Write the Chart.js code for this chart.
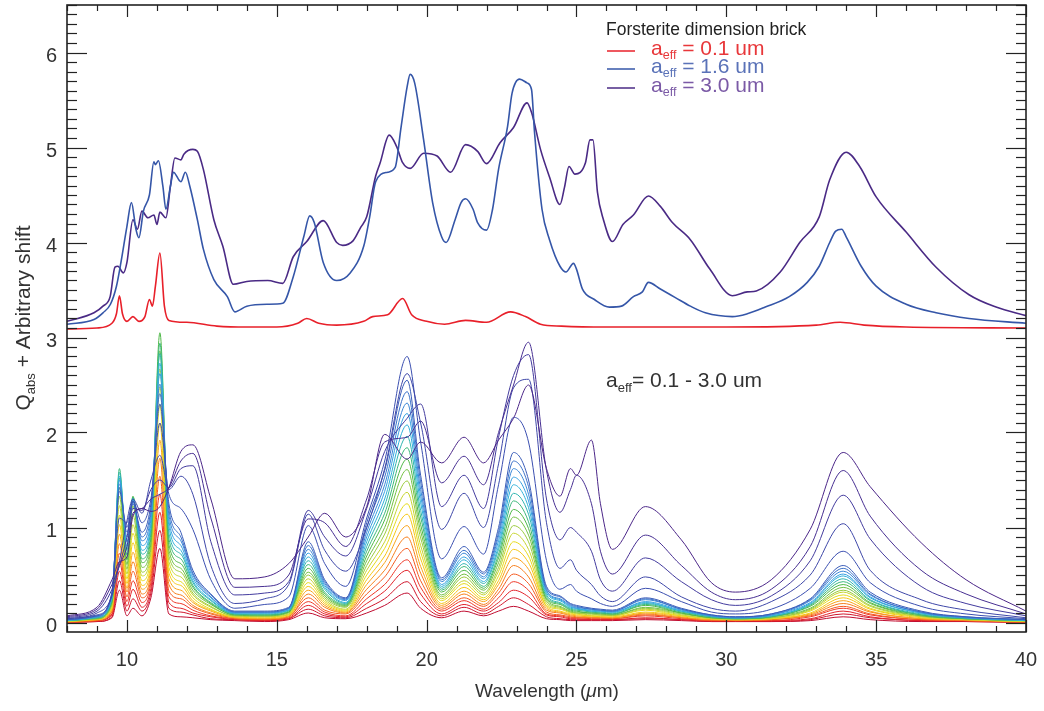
<!DOCTYPE html>
<html>
<head>
<meta charset="utf-8">
<script src="https://cdn.jsdelivr.net/npm/chart.js@4.4.1/dist/chart.umd.min.js"></script>
<style>
  html, body { margin: 0; padding: 0; background: #fff; }
  #wrap { width: 1044px; height: 711px; }
</style>
</head>
<body>
<div id="wrap"><canvas id="chart" width="1044" height="711"></canvas></div>
<script>
/* Forsterite Q_abs spectra – top: 3 sizes shifted by ~3.1, bottom: size family */

// ── Top panel (shifted curves) ────────────────────────────────────────
const TOP_RED_X = [8, 9, 9.5, 9.65, 9.75, 9.85, 10, 10.2, 10.4, 10.6, 10.75, 10.85, 10.95, 11.1, 11.25, 11.4, 12, 13, 14, 15, 15.7, 16, 16.4, 17, 17.9, 18.2, 18.7, 19.2, 19.5, 20, 20.6, 21.3, 22, 22.8, 23.3, 23.8, 24.5, 26, 30, 33, 33.8, 34.6, 36, 40];
const TOP_RED_Y = [3.09, 3.1, 3.15, 3.25, 3.44, 3.25, 3.17, 3.22, 3.17, 3.22, 3.4, 3.33, 3.54, 3.89, 3.33, 3.18, 3.16, 3.12, 3.11, 3.11, 3.15, 3.2, 3.15, 3.13, 3.17, 3.22, 3.24, 3.41, 3.24, 3.17, 3.14, 3.18, 3.16, 3.27, 3.22, 3.14, 3.12, 3.11, 3.11, 3.13, 3.16, 3.13, 3.11, 3.1];

const TOP_BLUE_X = [8, 8.9, 9.2, 9.45, 9.65, 9.8, 10, 10.15, 10.3, 10.4, 10.55, 10.75, 10.9, 10.95, 11.05, 11.2, 11.3, 11.45, 11.55, 11.8, 11.95, 12.1, 12.35, 12.55, 12.9, 13.35, 13.6, 14, 14.7, 15.2, 15.55, 15.9, 16.1, 16.25, 16.55, 17, 17.45, 17.9, 18.1, 18.3, 18.7, 18.95, 19.15, 19.35, 19.45, 19.6, 19.9, 20.2, 20.5, 20.65, 20.95, 21.15, 21.3, 21.55, 21.7, 22, 22.2, 22.4, 22.7, 22.85, 23.1, 23.35, 23.5, 23.6, 23.85, 24.1, 24.45, 24.65, 24.9, 25, 25.2, 25.6, 26.1, 26.5, 26.9, 27.2, 27.4, 27.8, 28.3, 28.8, 29.3, 30.2, 30.7, 31.3, 32.1, 32.7, 33.1, 33.45, 33.65, 33.85, 34, 34.5, 35, 36, 37, 38.1, 40];
const TOP_BLUE_Y = [3.14, 3.19, 3.26, 3.35, 3.54, 3.79, 4.17, 4.42, 4.14, 4.05, 4.33, 4.5, 4.85, 4.82, 4.86, 4.59, 4.35, 4.59, 4.74, 4.64, 4.74, 4.59, 4.24, 3.93, 3.61, 3.43, 3.27, 3.33, 3.35, 3.36, 3.64, 4.06, 4.28, 4.21, 3.79, 3.6, 3.68, 3.96, 4.27, 4.64, 4.74, 4.79, 5.22, 5.64, 5.77, 5.68, 5.08, 4.42, 4.06, 4.0, 4.24, 4.42, 4.46, 4.35, 4.21, 4.13, 4.35, 4.77, 5.22, 5.57, 5.72, 5.68, 5.61, 5.16, 4.35, 4.03, 3.75, 3.69, 3.78, 3.72, 3.51, 3.4, 3.32, 3.33, 3.43, 3.48, 3.58, 3.51, 3.42, 3.33, 3.26, 3.22, 3.25, 3.32, 3.43, 3.58, 3.75, 4.0, 4.12, 4.14, 4.06, 3.75, 3.54, 3.35, 3.26, 3.2, 3.15];

const TOP_PURPLE_X = [8, 8.9, 9.2, 9.44, 9.6, 9.7, 9.88, 10, 10.2, 10.35, 10.5, 10.7, 10.9, 11, 11.1, 11.3, 11.45, 11.6, 11.8, 11.9, 12.2, 12.35, 12.55, 12.9, 13.2, 13.55, 14, 14.7, 15.2, 15.55, 16, 16.55, 17, 17.2, 17.55, 17.8, 18, 18.3, 18.45, 18.75, 19, 19.2, 19.45, 19.9, 20.35, 20.8, 21.3, 21.7, 22, 22.45, 22.9, 23.35, 23.5, 23.8, 24.1, 24.45, 24.6, 24.75, 24.95, 25.3, 25.45, 25.55, 25.7, 25.9, 26.2, 26.55, 26.9, 27.4, 27.8, 28.2, 28.8, 29.45, 30.2, 30.7, 31, 31.8, 32.45, 33.1, 33.45, 34, 34.45, 35, 36, 37, 38.1, 39, 40];
const TOP_PURPLE_Y = [3.17, 3.26, 3.33, 3.43, 3.74, 3.75, 3.68, 3.79, 4.24, 4.14, 4.33, 4.26, 4.29, 4.19, 4.32, 4.26, 4.59, 4.89, 4.87, 4.93, 4.98, 4.96, 4.77, 4.24, 3.96, 3.56, 3.59, 3.6, 3.57, 3.85, 4.01, 4.23, 4.0, 3.97, 4.02, 4.16, 4.27, 4.7, 4.84, 5.13, 5.01, 4.84, 4.78, 4.94, 4.91, 4.74, 5.03, 4.96, 4.83, 5.05, 5.21, 5.47, 5.37, 4.98, 4.69, 4.4, 4.58, 4.8, 4.72, 4.84, 5.08, 5.08, 4.53, 4.24, 4.01, 4.19, 4.29, 4.49, 4.38, 4.21, 4.03, 3.72, 3.44, 3.48, 3.49, 3.69, 4.0, 4.27, 4.66, 4.95, 4.8, 4.48, 4.11, 3.74, 3.45, 3.32, 3.23];

// ── Bottom panel (a_eff = 0.1 - 3.0 um family) ───────────────────────
const WL = [8, 9, 9.5, 9.75, 10, 10.2, 10.5, 10.8, 11.1, 11.4, 11.8, 12.2, 12.8, 13.6, 14.6, 15.4, 16.05, 16.6, 17.3, 18, 18.6, 19.35, 19.8, 20.5, 21.25, 21.9, 22.4, 22.9, 23.4, 24, 24.45, 24.8, 25, 25.5, 25.8, 26.2, 27.3, 28.5, 29.5, 30.3, 31.5, 32.8, 33.9, 34.8, 36.5, 38, 40];

// small grains: one column per wavelength in WL, smallest size first
const FAN_BY_WL = [
  [0,0,0,0,0,0.01,0.01,0.01,0.01,0.01,0.02,0.02,0.02,0.02,0.02,0.02,0.03,0.03,0.03,0.03],
  [0.01,0.01,0.02,0.02,0.02,0.03,0.03,0.03,0.04,0.04,0.04,0.04,0.05,0.05,0.05,0.06,0.06,0.06,0.07,0.07],
  [0.05,0.06,0.08,0.09,0.11,0.12,0.14,0.15,0.16,0.18,0.19,0.21,0.22,0.23,0.25,0.26,0.28,0.29,0.31,0.32],
  [0.34,0.44,0.54,0.64,0.73,0.83,0.93,1.03,1.13,1.23,1.33,1.42,1.52,1.62,1.58,1.54,1.50,1.46,1.42,1.38],
  [0.07,0.12,0.17,0.22,0.27,0.32,0.36,0.41,0.46,0.51,0.56,0.61,0.66,0.71,0.76,0.80,0.85,0.90,0.95,1.00],
  [0.15,0.25,0.35,0.44,0.54,0.64,0.74,0.84,0.94,1.03,1.13,1.23,1.33,1.32,1.31,1.30,1.29,1.28,1.27,1.25],
  [0.07,0.12,0.16,0.21,0.26,0.30,0.35,0.39,0.44,0.49,0.53,0.58,0.63,0.67,0.72,0.76,0.81,0.86,0.90,0.95],
  [0.26,0.31,0.36,0.42,0.47,0.52,0.57,0.62,0.68,0.73,0.78,0.83,0.89,0.94,0.99,1.04,1.09,1.15,1.20,1.25],
  [0.78,0.97,1.16,1.35,1.54,1.73,1.92,2.10,2.29,2.48,2.67,2.86,3.05,2.94,2.83,2.73,2.62,2.51,2.41,2.30],
  [0.09,0.15,0.21,0.27,0.33,0.40,0.46,0.52,0.58,0.64,0.70,0.76,0.82,0.88,0.94,1.01,1.07,1.13,1.19,1.25],
  [0.06,0.11,0.15,0.20,0.25,0.29,0.34,0.39,0.43,0.48,0.53,0.57,0.62,0.67,0.72,0.76,0.81,0.86,0.90,0.95],
  [0.05,0.08,0.10,0.13,0.16,0.18,0.21,0.23,0.26,0.29,0.31,0.34,0.37,0.39,0.42,0.44,0.47,0.50,0.52,0.55],
  [0.03,0.04,0.06,0.07,0.09,0.10,0.12,0.13,0.14,0.16,0.17,0.19,0.20,0.21,0.23,0.24,0.26,0.27,0.29,0.30],
  [0.02,0.03,0.03,0.04,0.04,0.05,0.05,0.06,0.06,0.07,0.07,0.08,0.08,0.09,0.09,0.10,0.10,0.11,0.11,0.12],
  [0.01,0.02,0.02,0.03,0.03,0.04,0.04,0.05,0.06,0.06,0.07,0.07,0.08,0.08,0.09,0.10,0.10,0.11,0.11,0.12],
  [0.03,0.04,0.04,0.05,0.06,0.06,0.07,0.08,0.08,0.09,0.10,0.11,0.11,0.12,0.13,0.13,0.14,0.15,0.15,0.16],
  [0.10,0.14,0.18,0.22,0.26,0.30,0.34,0.38,0.42,0.46,0.50,0.53,0.57,0.61,0.65,0.69,0.73,0.77,0.81,0.85],
  [0.05,0.07,0.09,0.11,0.13,0.16,0.18,0.20,0.22,0.24,0.26,0.28,0.30,0.32,0.35,0.37,0.39,0.41,0.43,0.45],
  [0.04,0.05,0.06,0.07,0.09,0.10,0.11,0.12,0.13,0.14,0.16,0.17,0.18,0.19,0.20,0.21,0.23,0.24,0.25,0.26],
  [0.10,0.15,0.20,0.25,0.30,0.35,0.40,0.45,0.50,0.55,0.60,0.65,0.70,0.75,0.80,0.85,0.90,0.95,1.00,1.05],
  [0.18,0.25,0.33,0.40,0.48,0.55,0.63,0.70,0.78,0.85,0.93,1.00,1.08,1.15,1.23,1.30,1.38,1.45,1.53,1.60],
  [0.31,0.43,0.55,0.66,0.78,0.90,1.02,1.14,1.25,1.37,1.49,1.61,1.72,1.84,1.96,2.08,2.20,2.31,2.43,2.55],
  [0.15,0.22,0.30,0.37,0.44,0.52,0.59,0.67,0.74,0.81,0.89,0.96,1.03,1.11,1.18,1.26,1.33,1.40,1.48,1.55],
  [0.05,0.07,0.09,0.12,0.14,0.16,0.18,0.20,0.23,0.25,0.27,0.29,0.32,0.34,0.36,0.38,0.40,0.43,0.45,0.47],
  [0.12,0.16,0.19,0.23,0.26,0.30,0.33,0.37,0.41,0.44,0.48,0.51,0.55,0.59,0.62,0.66,0.69,0.73,0.76,0.80],
  [0.07,0.09,0.12,0.14,0.17,0.19,0.22,0.24,0.26,0.29,0.31,0.34,0.36,0.38,0.41,0.43,0.46,0.48,0.51,0.53],
  [0.12,0.17,0.21,0.26,0.31,0.35,0.40,0.44,0.49,0.54,0.58,0.63,0.68,0.72,0.77,0.81,0.86,0.91,0.95,1.00],
  [0.17,0.26,0.34,0.43,0.51,0.60,0.68,0.77,0.85,0.94,1.02,1.11,1.19,1.28,1.36,1.45,1.53,1.62,1.70,1.79],
  [0.12,0.19,0.27,0.34,0.41,0.48,0.56,0.63,0.70,0.77,0.85,0.92,0.99,1.06,1.14,1.21,1.28,1.35,1.43,1.50],
  [0.04,0.06,0.08,0.09,0.11,0.13,0.15,0.17,0.18,0.20,0.22,0.24,0.25,0.27,0.29,0.31,0.33,0.34,0.36,0.38],
  [0.03,0.04,0.06,0.07,0.08,0.10,0.11,0.12,0.14,0.15,0.16,0.17,0.19,0.20,0.21,0.23,0.24,0.25,0.27,0.28],
  [0.02,0.03,0.04,0.05,0.06,0.07,0.08,0.09,0.10,0.11,0.11,0.12,0.13,0.14,0.15,0.16,0.17,0.18,0.19,0.20],
  [0.02,0.03,0.04,0.05,0.05,0.06,0.07,0.08,0.09,0.10,0.10,0.11,0.12,0.13,0.14,0.15,0.15,0.16,0.17,0.18],
  [0.02,0.03,0.03,0.04,0.05,0.05,0.06,0.07,0.07,0.08,0.09,0.10,0.10,0.11,0.12,0.12,0.13,0.14,0.14,0.15],
  [0.02,0.03,0.03,0.04,0.05,0.05,0.06,0.06,0.07,0.08,0.08,0.09,0.10,0.10,0.11,0.12,0.12,0.13,0.13,0.14],
  [0.02,0.03,0.03,0.04,0.04,0.05,0.05,0.06,0.07,0.07,0.08,0.08,0.09,0.09,0.10,0.11,0.11,0.12,0.12,0.13],
  [0.03,0.04,0.05,0.07,0.08,0.09,0.10,0.11,0.13,0.14,0.15,0.16,0.18,0.19,0.20,0.21,0.22,0.24,0.25,0.26],
  [0.02,0.03,0.03,0.04,0.05,0.05,0.06,0.07,0.07,0.08,0.09,0.10,0.10,0.11,0.12,0.12,0.13,0.14,0.14,0.15],
  [0.01,0.01,0.02,0.02,0.02,0.03,0.03,0.04,0.04,0.04,0.05,0.05,0.05,0.06,0.06,0.07,0.07,0.07,0.08,0.08],
  [0.01,0.01,0.02,0.02,0.02,0.02,0.03,0.03,0.03,0.03,0.04,0.04,0.04,0.04,0.05,0.05,0.05,0.05,0.06,0.06],
  [0.01,0.01,0.02,0.02,0.03,0.03,0.04,0.04,0.04,0.05,0.05,0.06,0.06,0.06,0.07,0.07,0.08,0.08,0.09,0.09],
  [0.02,0.03,0.04,0.06,0.07,0.08,0.09,0.10,0.12,0.13,0.14,0.15,0.17,0.18,0.19,0.20,0.21,0.23,0.24,0.25],
  [0.06,0.09,0.12,0.15,0.17,0.20,0.23,0.26,0.29,0.32,0.34,0.37,0.40,0.43,0.46,0.49,0.51,0.54,0.57,0.60],
  [0.03,0.05,0.06,0.08,0.09,0.11,0.12,0.14,0.15,0.17,0.18,0.20,0.21,0.23,0.24,0.26,0.27,0.29,0.30,0.32],
  [0.01,0.02,0.02,0.03,0.03,0.04,0.04,0.05,0.06,0.06,0.07,0.07,0.08,0.08,0.09,0.10,0.10,0.11,0.11,0.12],
  [0.01,0.01,0.02,0.02,0.02,0.02,0.03,0.03,0.03,0.03,0.04,0.04,0.04,0.04,0.05,0.05,0.05,0.05,0.06,0.06],
  [0,0,0,0,0,0.01,0.01,0.01,0.01,0.01,0.02,0.02,0.02,0.02,0.02,0.02,0.03,0.03,0.03,0.03]
];

// large grains, spread out above the dense fan
const OUTER_1 = [0.04,0.08,0.30,1.10,1.05,1.28,1.05,1.30,2.10,1.35,1.20,0.98,0.45,0.15,0.19,0.27,1.02,0.62,0.38,1.10,1.70,2.80,1.90,0.67,1.01,0.72,1.45,2.16,1.90,0.65,0.35,0.40,0.33,0.25,0.20,0.17,0.36,0.22,0.11,0.09,0.14,0.36,0.75,0.42,0.17,0.09,0.04];
const OUTER_2 = [0.04,0.10,0.28,0.65,1.07,1.30,1.15,1.50,1.76,1.40,1.54,1.35,0.60,0.20,0.25,0.40,1.14,0.76,0.54,1.00,1.62,2.62,2.10,0.98,1.36,1.00,1.67,2.47,2.56,1.05,0.57,0.66,0.55,0.40,0.28,0.22,0.48,0.27,0.15,0.12,0.22,0.50,1.04,0.55,0.24,0.13,0.05];
const OUTER_3 = [0.05,0.12,0.35,0.60,0.90,1.20,1.18,1.40,1.50,1.42,1.62,1.65,0.85,0.29,0.31,0.43,1.18,0.90,0.70,1.20,1.80,2.15,2.30,1.22,1.55,1.20,1.95,2.60,2.82,1.30,0.87,1.00,0.95,0.75,0.45,0.33,0.68,0.43,0.24,0.18,0.28,0.65,1.34,0.88,0.38,0.20,0.07];
const OUTER_4 = [0.06,0.14,0.40,0.60,0.80,1.15,1.20,1.30,1.35,1.42,1.70,1.78,1.10,0.37,0.38,0.50,1.09,1.05,0.80,1.30,1.90,1.95,2.12,1.47,1.75,1.45,2.00,2.50,2.95,1.60,1.16,1.40,1.55,1.25,0.75,0.51,0.92,0.60,0.32,0.24,0.35,0.80,1.60,1.12,0.55,0.30,0.09];
const OUTER_5 = [0.07,0.16,0.45,0.64,0.69,1.12,1.20,1.17,1.22,1.42,1.80,1.87,1.30,0.46,0.48,0.62,0.90,1.15,0.90,1.22,1.98,1.72,1.90,1.68,1.95,1.68,1.92,2.15,2.50,1.62,1.33,1.62,1.55,1.92,1.25,0.77,1.22,0.87,0.42,0.32,0.45,0.98,1.79,1.43,0.84,0.45,0.12];

const FAN_COLORS = ['#c00c30','#d0162c','#e2222a','#ee3626','#f45a1f','#f77e1a','#f9a31a','#f5c616','#e6da1a',
  '#c6d430','#9acb3c','#72c043','#4fb848','#3cb87a','#30b4b0','#2fb0d8','#35a0e0','#3a86d6','#3a70c8','#3a5cb8'];
const OUTER_COLORS = ['#3b4fb0','#3e47a8','#433b9e','#472f92','#4b2688'];

const TEXT = '#333';
const FONT = '"Liberation Sans", Arial, Helvetica, sans-serif';

function pts(xs, ys) { return xs.map((x, i) => ({ x, y: ys[i] })); }

function line(label, data, color, width) {
  return {
    label, data,
    borderColor: color,
    borderWidth: width,
    pointRadius: 0,
    fill: false,
    cubicInterpolationMode: 'monotone',
  };
}

// ── Datasets ─────────────────────────────────────────────────────────
const datasets = [];
datasets.push(line('0.1 um', pts(TOP_RED_X, TOP_RED_Y), '#e8202a', 1.6));
datasets.push(line('1.6 um', pts(TOP_BLUE_X, TOP_BLUE_Y), '#3556a8', 1.6));
datasets.push(line('3.0 um', pts(TOP_PURPLE_X, TOP_PURPLE_Y), '#4a2a85', 1.6));

[OUTER_5, OUTER_4, OUTER_3, OUTER_2, OUTER_1].forEach((row, i) => {
  datasets.push(line('outer' + i, pts(WL, row), OUTER_COLORS[4 - i], 1));
});
for (let k = FAN_COLORS.length - 1; k >= 0; k--) {
  const row = FAN_BY_WL.map(col => col[k]);
  datasets.push(line('fan' + k, pts(WL, row), FAN_COLORS[k], 1));
}

// ── Text helpers ─────────────────────────────────────────────────────
function drawRuns(ctx, x, y, runs) {
  // runs: [text, size, dy, color]
  let cx = x;
  runs.forEach(([t, size, dy, color]) => {
    ctx.font = `${size}px ${FONT}`;
    ctx.fillStyle = color;
    ctx.fillText(t, cx, y + dy);
    cx += ctx.measureText(t).width;
  });
  return cx;
}
function runsWidth(ctx, runs) {
  let w = 0;
  runs.forEach(([t, size]) => { ctx.font = `${size}px ${FONT}`; w += ctx.measureText(t).width; });
  return w;
}

// ── Frame, ticks, labels, legend ─────────────────────────────────────
const decor = {
  id: 'decor',
  afterDatasetsDraw(chart) {
    const { ctx, chartArea: a, scales: { x, y } } = chart;
    ctx.save();
    ctx.strokeStyle = '#222';
    ctx.lineWidth = 1.2;
    const seg = (x1, y1, x2, y2) => { ctx.beginPath(); ctx.moveTo(x1, y1); ctx.lineTo(x2, y2); ctx.stroke(); };

    for (let v = 8; v <= 40; v++) {
      const px = Math.round(x.getPixelForValue(v)) + 0.5;
      const len = v % 5 === 0 ? 12 : 6;
      seg(px, a.bottom, px, a.bottom - len);
      seg(px, a.top, px, a.top + len);
    }
    for (let i = 0; i <= 65; i++) {
      const py = Math.round(y.getPixelForValue(i / 10)) + 0.5;
      if (py < a.top || py > a.bottom) continue;
      const len = i % 10 === 0 ? 20 : 10;
      seg(a.left, py, a.left + len, py);
      seg(a.right, py, a.right - len, py);
    }
    ctx.lineWidth = 1.6;
    ctx.strokeRect(a.left, a.top, a.right - a.left, a.bottom - a.top);

    // tick labels
    ctx.fillStyle = TEXT;
    ctx.font = `20px ${FONT}`;
    ctx.textBaseline = 'middle';
    ctx.textAlign = 'right';
    for (let v = 0; v <= 6; v++) ctx.fillText(String(v), a.left - 10, y.getPixelForValue(v) + 4);
    ctx.textAlign = 'center';
    for (let v = 10; v <= 40; v += 5) ctx.fillText(String(v), x.getPixelForValue(v), 660);

    // x title
    ctx.textAlign = 'left';
    ctx.textBaseline = 'alphabetic';
    ctx.font = `19px ${FONT}`;
    const w1 = ctx.measureText('Wavelength (').width;
    ctx.font = `italic 19px ${FONT}`;
    const w2 = ctx.measureText('\u03bc').width;
    ctx.font = `19px ${FONT}`;
    const w3 = ctx.measureText('m)').width;
    const sx = 547 - (w1 + w2 + w3) / 2;
    ctx.fillStyle = TEXT;
    ctx.fillText('Wavelength (', sx, 697);
    ctx.font = `italic 19px ${FONT}`;
    ctx.fillText('\u03bc', sx + w1, 697);
    ctx.font = `19px ${FONT}`;
    ctx.fillText('m)', sx + w1 + w2, 697);

    // y title (rotated)
    ctx.save();
    ctx.translate(30, 318);
    ctx.rotate(-Math.PI / 2);
    const yt = [['Q', 21, 0, TEXT], ['abs', 13, 5, TEXT], [' + Arbitrary shift', 21, 0, TEXT]];
    drawRuns(ctx, -runsWidth(ctx, yt) / 2, 0, yt);
    ctx.restore();

    // legend
    ctx.font = `17.5px ${FONT}`;
    ctx.fillStyle = '#222';
    ctx.fillText('Forsterite dimension brick', 606, 35);
    const leg = [
      ['0.1', '#e8202a', '#e8373a', 51, 55],
      ['1.6', '#3556a8', '#5a72b8', 69, 73],
      ['3.0', '#4a2a85', '#7b5aa6', 88, 92],
    ];
    leg.forEach(([size, lc, tc, ly, by]) => {
      ctx.strokeStyle = lc;
      ctx.lineWidth = 1.5;
      seg(607, ly, 635, ly);
      drawRuns(ctx, 651, by, [['a', 21, 0, tc], ['eff', 12.5, 4, tc], [' = ' + size + ' um', 21, 0, tc]]);
    });

    // annotation
    drawRuns(ctx, 606, 387, [['a', 21, 0, TEXT], ['eff', 13, 5, TEXT], ['= 0.1 - 3.0 um', 21, 0, TEXT]]);
    ctx.restore();
  }
};

new Chart(document.getElementById('chart'), {
  type: 'line',
  data: { datasets },
  options: {
    responsive: false,
    animation: false,
    layout: { padding: { left: 67, right: 18, top: 5, bottom: 79 } },
    plugins: { legend: { display: false }, tooltip: { enabled: false } },
    scales: {
      x: { type: 'linear', min: 8, max: 40, display: false },
      y: { type: 'linear', min: -0.1, max: 6.5, display: false }
    }
  },
  plugins: [decor]
});
</script>
</body>
</html>
